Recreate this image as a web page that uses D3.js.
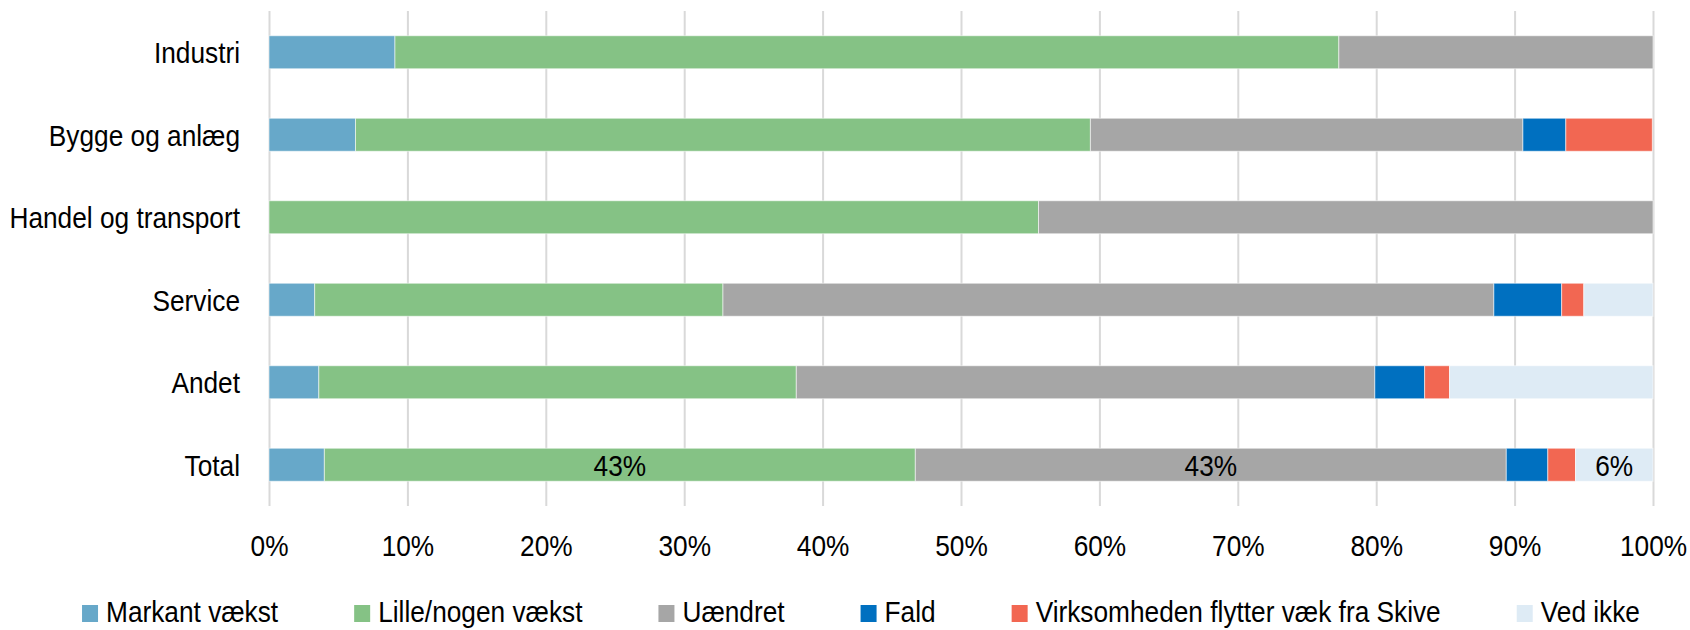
<!DOCTYPE html>
<html>
<head>
<meta charset="utf-8">
<script src="https://cdn.jsdelivr.net/npm/d3@7"></script>
<style>
  body { margin: 0; background: #fff; }
  svg text { font-family: "Liberation Sans", Arial, sans-serif; fill: #000; }
</style>
</head>
<body>
<div id="chart"></div>
<script>
// categories (top to bottom)
var categories = ["Industri", "Bygge og anlæg", "Handel og transport", "Service", "Andet", "Total"];
// series names, in stacking order
var seriesNames = ["Markant vækst", "Lille/nogen vækst", "Uændret", "Fald", "Virksomheden flytter væk fra Skive", "Ved ikke"];
var seriesColors = ["#67a8c9", "#85c285", "#a6a6a6", "#0070c0", "#f26752", "#deebf5"];

// shares in percent, one array per series, in category order
var markant   = [9.1, 6.25, 0,    3.3,  3.6,  4.0];
var lille     = [68.2, 53.1, 55.6, 29.5, 34.5, 42.7];
var uaendret  = [22.7, 31.25, 44.4, 55.7, 41.8, 42.7];
var fald      = [0,    3.1,  0,    4.9,  3.6,  3.0];
var flytter   = [0,    6.25, 0,    1.6,  1.8,  2.0];
var vedIkke   = [0,    0,    0,    5.0,  14.7, 5.6];

var xTicks = [0, 10, 20, 30, 40, 50, 60, 70, 80, 90, 100];
// data labels only on the Total row
var labelSeries = ["Lille/nogen vækst", "Uændret", "Ved ikke"];
var labelRow = "Total";

var seriesValues = [markant, lille, uaendret, fald, flytter, vedIkke];
var table = categories.map(function (c, i) {
  var row = { category: c };
  seriesNames.forEach(function (s, j) { row[s] = seriesValues[j][i]; });
  return row;
});

var width = 1690, height = 630;
var margin = { top: 11, right: 37, bottom: 124, left: 269 };
var chartWidth = width - margin.left - margin.right;
var chartHeight = height - margin.top - margin.bottom;
var fontSize = 30;
// the original uses a narrow face; squeeze the regular one to match
var narrow = 0.875;

var svg = d3.select("#chart").append("svg")
  .attr("width", width)
  .attr("height", height);

var g = svg.append("g")
  .attr("transform", `translate(${margin.left}, ${margin.top})`);

var xScale = d3.scaleLinear().domain([0, 100]).range([0, chartWidth]);
var yScale = d3.scaleBand()
  .domain(categories)
  .range([0, chartHeight])
  .paddingInner(0.6)
  .paddingOuter(0.3);

var color = d3.scaleOrdinal().domain(seriesNames).range(seriesColors);

// gridlines + tick labels
var xAxis = d3.axisBottom(xScale)
  .tickValues(xTicks)
  .tickSize(-chartHeight)
  .tickFormat(function (d) { return d + "%"; });

var xg = g.append("g")
  .attr("class", "x axis")
  .attr("transform", `translate(0, ${chartHeight})`)
  .call(xAxis);
xg.select(".domain").remove();
xg.selectAll(".tick line").attr("stroke", "#d9d9d9").attr("stroke-width", 2);
xg.selectAll(".tick text")
  .attr("y", 50)
  .attr("dy", 0)
  .attr("font-size", fontSize);

// category labels
var yAxis = d3.axisLeft(yScale).tickSize(0).tickPadding(29);
var yg = g.append("g").attr("class", "y axis").call(yAxis);
yg.select(".domain").remove();
yg.selectAll(".tick text")
  .attr("font-size", fontSize)
  .attr("dy", "0.36em");

// stacked bars
var stacked = d3.stack().keys(seriesNames)(table);

var layers = g.append("g").attr("class", "bars")
  .selectAll("g")
  .data(stacked)
  .enter()
  .append("g")
  .attr("fill", function (d) { return color(d.key); });

layers.selectAll("rect")
  .data(function (d) { return d.filter(function (p) { return p[1] - p[0] > 0; }); })
  .enter()
  .append("rect")
  .attr("x", function (d) { return xScale(d[0]); })
  .attr("y", function (d) { return yScale(d.data.category); })
  .attr("width", function (d) { return xScale(d[1]) - xScale(d[0]); })
  .attr("height", yScale.bandwidth())
  .attr("stroke", "rgba(255,255,255,0.55)")
  .attr("stroke-width", 1);

// data labels on Total
var labels = g.append("g").attr("class", "labels");
stacked.forEach(function (layer) {
  if (labelSeries.indexOf(layer.key) < 0) return;
  layer.forEach(function (p) {
    if (p.data.category !== labelRow) return;
    labels.append("text")
      .attr("x", xScale((p[0] + p[1]) / 2))
      .attr("y", yScale(p.data.category) + yScale.bandwidth() / 2)
      .attr("dy", "0.36em")
      .attr("text-anchor", "middle")
      .attr("font-size", fontSize)
      .text(Math.round(p[1] - p[0]) + "%");
  });
});

// legend
var legend = svg.append("g").attr("class", "legend");
var items = legend.selectAll("g")
  .data(seriesNames)
  .enter()
  .append("g");
items.append("rect")
  .attr("width", 16)
  .attr("height", 17)
  .attr("y", -17)
  .attr("fill", function (d) { return color(d); });
items.append("text")
  .attr("x", 24)
  .attr("font-size", fontSize)
  .text(function (d) { return d; });

// squeeze every text horizontally
svg.selectAll("text").each(function () {
  var w = this.getComputedTextLength();
  d3.select(this)
    .attr("textLength", w * narrow)
    .attr("lengthAdjust", "spacingAndGlyphs");
});

// lay out legend by the squeezed widths
var pos = 0;
items.each(function () {
  var w = +d3.select(this).select("text").attr("textLength");
  d3.select(this).attr("transform", `translate(${pos}, 0)`);
  pos += 24 + w + 76;
});
var legendWidth = pos - 76;
legend.attr("transform", `translate(${861 - legendWidth / 2}, 622)`);
</script>
</body>
</html>
